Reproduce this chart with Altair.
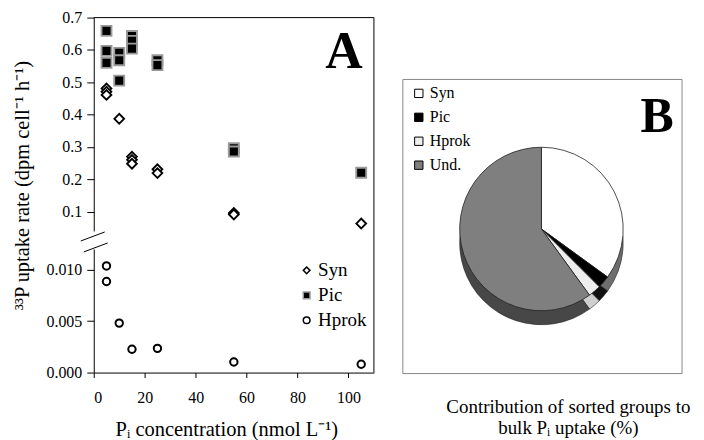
import altair as alt
import pandas as pd

SERIF = "Liberation Serif"

# ---------------- Panel A data ----------------
syn_x = [5, 5, 5, 10, 15, 15, 15, 25, 25, 55, 55, 105]
syn_y = [0.481, 0.471, 0.461, 0.387, 0.270, 0.260, 0.248, 0.231, 0.219, 0.096, 0.091, 0.063]
pic_x = [5, 5, 5, 10, 10, 10, 15, 15, 15, 25, 25, 55, 55, 105]
pic_y = [0.659, 0.597, 0.560, 0.591, 0.568, 0.505, 0.643, 0.628, 0.604, 0.568, 0.553, 0.296, 0.286, 0.220]
hprok_x = [5, 5, 10, 15, 25, 55, 105]
hprok_y = [0.01035, 0.00884, 0.0048, 0.00226, 0.00235, 0.00103, 0.00081]

groups_a = ["Syn", "Pic", "Hprok"]
top_ticks = [0.1, 0.2, 0.3, 0.4, 0.5, 0.6, 0.7]
bottom_ticks = [0.0, 0.005, 0.010]
x_ticks = [0, 20, 40, 60, 80, 100]

# ---------------- Panel B data ----------------
pie_groups = ["Syn", "Pic", "Hprok", "Und."]
pie_values = [35, 2.5, 2.5, 60]

# ---------------- tables ----------------
df_top = pd.concat([
    pd.DataFrame({"conc": pic_x, "rate": pic_y, "group": "Pic"}),
    pd.DataFrame({"conc": syn_x, "rate": syn_y, "group": "Syn"}),
])
df_bot = pd.DataFrame({"conc": hprok_x, "rate": hprok_y, "group": "Hprok"})
df_pie = pd.DataFrame({"group": pie_groups, "value": pie_values,
                       "ord": list(range(len(pie_groups)))})
one = pd.DataFrame({"k": [0]})

W = 281
H_TOP = 214
H_BOT = 124
GAP = 18

x_scale = alt.Scale(domain=[0, 110], nice=False, zero=True)


def sc_shape():
    return alt.Scale(domain=groups_a, range=["diamond", "square", "circle"])


def sc_fill():
    return alt.Scale(domain=groups_a, range=["white", "black", "white"])


def sc_stroke():
    return alt.Scale(domain=groups_a, range=["black", "#9a9a9a", "black"])


# ---------------- top part of panel A ----------------
top_pts = alt.Chart(df_top).mark_point(strokeWidth=1.9, opacity=1).encode(
    x=alt.X("conc:Q", scale=x_scale, axis=None),
    y=alt.Y("rate:Q", scale=alt.Scale(domain=[0.04, 0.7], nice=False, zero=False),
            axis=alt.Axis(values=top_ticks, format=".1f",
                          title="³³P uptake rate  (dpm cell⁻¹ h⁻¹)",
                          titleX=-71, titleY=168, titleAngle=270,
                          titleAlign="center", titleBaseline="middle")),
    shape=alt.Shape("group:N", scale=sc_shape(), legend=None),
    fill=alt.Fill("group:N", scale=sc_fill(), legend=None),
    stroke=alt.Stroke("group:N", scale=sc_stroke(), legend=None),
    size=alt.Size("group:N", scale=alt.Scale(domain=["Syn", "Pic"], range=[95, 100]),
                  legend=None),
)

frame_top = alt.Chart(one).mark_rule(color="black", strokeWidth=1).encode(
    x=alt.value(0), x2=alt.value(W), y=alt.value(0))
frame_right = alt.Chart(one).mark_rule(color="black", strokeWidth=1).encode(
    x=alt.value(W), y=alt.value(0), y2=alt.value(H_TOP + GAP + H_BOT))
brk1 = alt.Chart(one).mark_rule(color="black", strokeWidth=1).encode(
    x=alt.value(-13), x2=alt.value(11), y=alt.value(H_TOP + 10), y2=alt.value(H_TOP + 1))
brk2 = alt.Chart(one).mark_rule(color="black", strokeWidth=1).encode(
    x=alt.value(-10), x2=alt.value(14), y=alt.value(H_TOP + 21), y2=alt.value(H_TOP + 12))
label_a = alt.Chart(one).mark_text(font=SERIF, fontSize=52, fontWeight="bold",
                                   align="center", baseline="alphabetic").encode(
    x=alt.value(251), y=alt.value(51), text=alt.value("A"))

top = alt.layer(top_pts, frame_top, frame_right, brk1, brk2, label_a).properties(
    width=W, height=H_TOP)

# ---------------- bottom part of panel A ----------------
bot = alt.Chart(df_bot).mark_point(strokeWidth=2, opacity=1, size=55).encode(
    x=alt.X("conc:Q", scale=x_scale,
            axis=alt.Axis(values=x_ticks, format="d", tickSize=5, labelPadding=12,
                          title="Pᵢ concentration (nmol L⁻¹)", titlePadding=14,
                          titleFontSize=20.5, titleX=133)),
    y=alt.Y("rate:Q", scale=alt.Scale(domain=[0, 0.012], nice=False),
            axis=alt.Axis(values=bottom_ticks, format=".3f", title=None)),
    shape=alt.Shape("group:N", scale=sc_shape(),
                    legend=alt.Legend(orient="none", legendX=204, legendY=12, title=None,
                                      labelFont=SERIF, labelFontSize=19, labelColor="black",
                                      symbolSize=45, symbolStrokeWidth=1.5,
                                      rowPadding=5, labelOffset=2)),
    fill=alt.Fill("group:N", scale=sc_fill()),
    stroke=alt.Stroke("group:N", scale=sc_stroke()),
).properties(width=W, height=H_BOT)

left = alt.vconcat(top, bot, spacing=GAP, bounds="flush").resolve_scale(
    y="independent", shape="independent", fill="independent",
    stroke="independent", size="independent"
).resolve_legend(shape="independent", fill="independent", stroke="independent")

# ---------------- panel B ----------------
WB = 280
HB = 357
CX, CY, R, DEPTH = 139, 212, 82, 14

pie_fill = alt.Scale(domain=pie_groups, range=["#ffffff", "#000000", "#eeeeee", "#7f7f7f"])
side_fill = alt.Scale(domain=pie_groups, range=["#6e6e6e", "#111111", "#cfcfcf", "#474747"])

side = alt.Chart(df_pie).mark_arc(outerRadius=R, stroke="#222222", strokeWidth=0.6).encode(
    theta=alt.Theta("value:Q", stack=True),
    order=alt.Order("ord:Q"),
    fill=alt.Fill("group:N", scale=side_fill, legend=None),
    x=alt.value(CX), y=alt.value(CY + DEPTH),
)
face = alt.Chart(df_pie).mark_arc(outerRadius=R, stroke="#222222", strokeWidth=0.8).encode(
    theta=alt.Theta("value:Q", stack=True),
    order=alt.Order("ord:Q"),
    color=alt.Color("group:N", scale=pie_fill,
                    legend=alt.Legend(orient="none", legendX=8, legendY=68, title=None,
                                      symbolType="square", symbolSize=70,
                                      symbolStrokeColor="black", symbolStrokeWidth=1,
                                      labelFont=SERIF, labelFontSize=16, labelColor="black",
                                      rowPadding=8, labelOffset=3)),
    x=alt.value(CX), y=alt.value(CY),
)
box = alt.Chart(one).mark_rect(fill="white", stroke="#888888", strokeWidth=1).encode(
    x=alt.value(0), x2=alt.value(WB), y=alt.value(62), y2=alt.value(HB))
label_b = alt.Chart(one).mark_text(font=SERIF, fontSize=50, fontWeight="bold",
                                   align="center", baseline="alphabetic").encode(
    x=alt.value(255), y=alt.value(115), text=alt.value("B"))
cap1 = alt.Chart(one).mark_text(font=SERIF, fontSize=19, align="center", baseline="middle").encode(
    x=alt.value(166), y=alt.value(391), text=alt.value("Contribution of sorted groups to"))
cap2 = alt.Chart(one).mark_text(font=SERIF, fontSize=19, align="center", baseline="middle").encode(
    x=alt.value(166), y=alt.value(412), text=alt.value("bulk Pᵢ uptake (%)"))

panel_b = alt.layer(box, side, face, label_b, cap1, cap2).resolve_scale(
    fill="independent", color="independent").properties(width=WB, height=HB)

chart = alt.hconcat(left, panel_b, spacing=27).resolve_scale(
    shape="independent", fill="independent", stroke="independent",
    size="independent", color="independent"
).resolve_legend(
    shape="independent", fill="independent", stroke="independent", color="independent"
).configure_view(stroke=None).configure_axis(
    labelFont=SERIF, labelFontSize=16, labelColor="black",
    titleFont=SERIF, titleFontSize=20.5, titleColor="black", titleFontWeight="normal",
    domainColor="black", tickColor="black", grid=False,
).configure_axisY(tickSize=7, labelPadding=5).properties(
    padding={"left": 5, "top": 1, "right": 5, "bottom": 5}
)

chart.save("out.html", embed_options={"renderer": "svg", "actions": False})
